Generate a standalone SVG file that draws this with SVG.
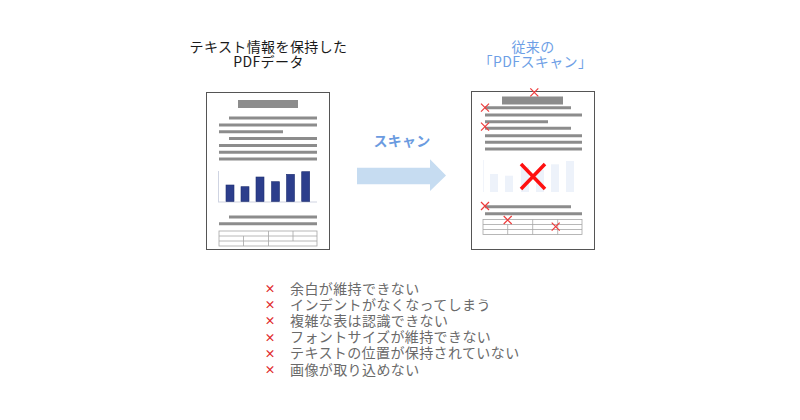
<svg xmlns="http://www.w3.org/2000/svg" width="800" height="420" viewBox="0 0 800 420">
<defs>
<style>
.t{font-family:"Noto Sans CJK JP","Noto Sans",sans-serif;}
.title{font-size:14px;letter-spacing:0.4px;fill:#1a1a1a;text-anchor:middle;}
.btitle{font-size:14px;letter-spacing:0.4px;fill:#6e9fe6;text-anchor:middle;}
.bul{font-size:14px;letter-spacing:0.4px;fill:#6a6a6a;}
.bx{font-size:11px;fill:#e02828;font-weight:bold;text-anchor:middle;}
.doc{fill:#fff;stroke:#555;stroke-width:1;}
.ln{stroke:#8c8c8c;stroke-width:3;}
.tb{fill:none;stroke:#a6a6a6;stroke-width:0.8;}
.bar{fill:#2c3e8c;stroke:#1f2f70;stroke-width:0.6;}
.fbar{fill:#edf2fa;}
.sx{stroke:#ee3b3b;stroke-width:1.2;fill:none;}
</style>
</defs>
<rect width="800" height="420" fill="#fff"/>

<g id="title-left">
<text class="t title" x="268.5" y="52">テキスト情報を保持した</text>
<text class="t title" x="268.5" y="66.5">PDFデータ</text>
</g>
<g id="title-right">
<text class="t btitle" x="533" y="51.5">従来の</text>
<text class="t btitle" x="535.5" y="66.5">「PDFスキャン」</text>
</g>

<g id="doc-left">
<rect class="doc" x="206.5" y="92.5" width="123" height="157"/>
<rect x="238" y="100" width="60" height="8" fill="#8c8c8c"/>
<line class="ln" x1="229" y1="118" x2="317" y2="118"/>
<line class="ln" x1="219" y1="125" x2="317" y2="125"/>
<line class="ln" x1="219" y1="131.7" x2="283" y2="131.7"/>
<line class="ln" x1="229" y1="138.5" x2="317" y2="138.5"/>
<line class="ln" x1="219" y1="145.5" x2="317" y2="145.5"/>
<line class="ln" x1="219" y1="152.3" x2="317" y2="152.3"/>
<line class="ln" x1="219" y1="159" x2="317" y2="159"/>
<line x1="218.5" y1="171" x2="218.5" y2="202" stroke="#cfd4e2" stroke-width="1"/>
<line x1="218" y1="202" x2="317" y2="202" stroke="#cfd4e2" stroke-width="1.2"/>
<rect class="bar" x="226" y="185" width="8" height="16.5"/>
<rect class="bar" x="241" y="186.7" width="8" height="14.8"/>
<rect class="bar" x="256" y="177" width="8" height="24.5"/>
<rect class="bar" x="271.5" y="181.7" width="8" height="19.8"/>
<rect class="bar" x="286.5" y="174.3" width="8" height="27.2"/>
<rect class="bar" x="301.7" y="171.7" width="8" height="29.8"/>
<line class="ln" x1="229" y1="217" x2="317" y2="217"/>
<line class="ln" x1="219" y1="223.7" x2="317" y2="223.7"/>
<rect class="tb" x="219" y="231" width="98" height="15"/>
<line class="tb" x1="219" y1="236" x2="317" y2="236"/>
<line class="tb" x1="219" y1="241" x2="317" y2="241"/>
<line class="tb" x1="243.5" y1="236" x2="243.5" y2="246"/>
<line class="tb" x1="268.5" y1="231" x2="268.5" y2="246"/>
<line class="tb" x1="293" y1="231" x2="293" y2="241"/>
</g>

<g id="arrow">
<text class="t" x="402" y="145.5" font-size="14" letter-spacing="0.3" font-weight="bold" fill="#6b9be0" text-anchor="middle">スキャン</text>
<polygon points="357,167.7 430,167.7 430,159.3 446,175.5 430,191 430,184.3 357,184.3" fill="#c6dcf1"/>
</g>

<g id="doc-right">
<rect class="doc" x="471.5" y="91.5" width="123" height="158"/>
<rect x="502" y="96.5" width="61" height="8" fill="#8c8c8c"/>
<line class="ln" x1="485" y1="107.7" x2="571" y2="107.7"/>
<line class="ln" x1="485" y1="115" x2="582" y2="115"/>
<line class="ln" x1="485" y1="121.7" x2="548" y2="121.7"/>
<line class="ln" x1="485" y1="128.3" x2="571" y2="128.3"/>
<line class="ln" x1="485" y1="135.7" x2="582" y2="135.7"/>
<line class="ln" x1="485" y1="142.3" x2="582" y2="142.3"/>
<line class="ln" x1="485" y1="149" x2="582" y2="149"/>
<line x1="483.5" y1="160" x2="483.5" y2="192" stroke="#f1f4fa" stroke-width="1"/>
<rect class="fbar" x="490" y="174" width="8" height="18"/>
<rect class="fbar" x="505" y="175.7" width="8" height="16.3"/>
<rect class="fbar" x="521" y="167" width="8" height="25"/>
<rect class="fbar" x="536" y="170" width="8" height="22"/>
<rect class="fbar" x="551" y="164.3" width="8" height="27.7"/>
<rect class="fbar" x="566" y="161" width="8" height="31"/>
<line class="ln" x1="485" y1="206.7" x2="571" y2="206.7"/>
<line class="ln" x1="485" y1="213.7" x2="582" y2="213.7"/>
<rect class="tb" x="483" y="219.5" width="99" height="15"/>
<line class="tb" x1="483" y1="224.5" x2="582" y2="224.5"/>
<line class="tb" x1="483" y1="229.5" x2="582" y2="229.5"/>
<line class="tb" x1="507.7" y1="224.5" x2="507.7" y2="234.5"/>
<line class="tb" x1="532.7" y1="219.5" x2="532.7" y2="234.5"/>
<line class="tb" x1="557.7" y1="219.5" x2="557.7" y2="234.5"/>
<path d="M521,164 L545,189 M545,164 L521,189" stroke="#ff1010" stroke-width="3.5" fill="none"/>
<path class="sx" d="M530.3,88.3 l8,8 m0,-8 l-8,8"/>
<path class="sx" d="M481,103.7 l8,8 m0,-8 l-8,8"/>
<path class="sx" d="M481,122.7 l8,8 m0,-8 l-8,8"/>
<path class="sx" d="M481,202 l8,8 m0,-8 l-8,8"/>
<path class="sx" d="M503.7,216 l8,8 m0,-8 l-8,8"/>
<path class="sx" d="M551.7,222.7 l8,8 m0,-8 l-8,8"/>
</g>

<g id="list">
<text class="t bx" x="270" y="293">×</text>
<text class="t bx" x="270" y="309.2">×</text>
<text class="t bx" x="270" y="325.4">×</text>
<text class="t bx" x="270" y="341.6">×</text>
<text class="t bx" x="270" y="357.8">×</text>
<text class="t bx" x="270" y="374">×</text>
<text class="t bul" x="290" y="293.5">余白が維持できない</text>
<text class="t bul" x="290" y="309.7">インデントがなくなってしまう</text>
<text class="t bul" x="290" y="325.9">複雑な表は認識できない</text>
<text class="t bul" x="290" y="342.1">フォントサイズが維持できない</text>
<text class="t bul" x="290" y="358.3">テキストの位置が保持されていない</text>
<text class="t bul" x="290" y="374.5">画像が取り込めない</text>
</g>
</svg>
